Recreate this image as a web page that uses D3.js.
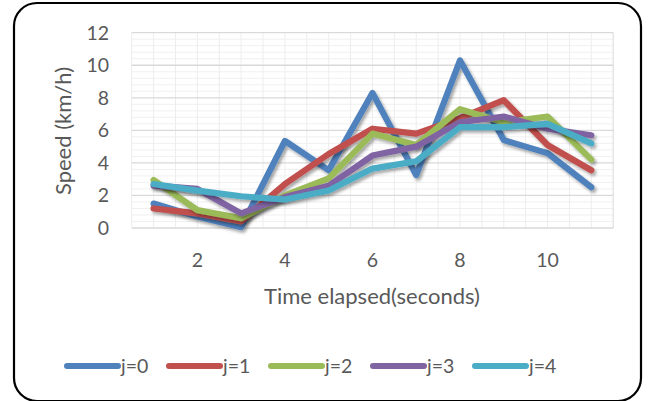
<!DOCTYPE html>
<html>
<head>
<meta charset="utf-8">
<script src="https://cdn.jsdelivr.net/npm/d3@7/dist/d3.min.js"></script>
<style>
  body { margin: 0; background: #fff; }
  text { font-family: Lato, "Open Sans", sans-serif; fill: #595959; }
</style>
</head>
<body>
<div id="chart"></div>
<script>
// Datos
const segundos = [1, 2, 3, 4, 5, 6, 7, 8, 9, 10, 11];
const etiquetasX = [2, 4, 6, 8, 10];
const ticksY = [0, 2, 4, 6, 8, 10, 12];
const series = ["j=0", "j=1", "j=2", "j=3", "j=4"];
const colores = ["#4F81BD", "#C0504D", "#9BBB59", "#8064A2", "#4BACC6"];

const j0 = [1.5, 0.7, 0.05, 5.35, 3.55, 8.3, 3.25, 10.3, 5.4, 4.6, 2.5];
const j1 = [1.2, 0.9, 0.4, 2.7, 4.55, 6.1, 5.8, 6.75, 7.85, 5.1, 3.55];
const j2 = [2.95, 1.1, 0.6, 2.0, 3.05, 5.8, 5.1, 7.3, 6.5, 6.85, 4.2];
const j3 = [2.6, 2.4, 0.9, 1.9, 2.6, 4.45, 5.0, 6.5, 6.85, 6.1, 5.7];
const j4 = [2.7, 2.3, 1.95, 1.75, 2.3, 3.65, 4.1, 6.2, 6.2, 6.4, 5.2];
const valores = [j0, j1, j2, j3, j4];

const width = 656;
const height = 401;

const svg = d3.select("#chart")
  .append("svg")
  .attr("width", width)
  .attr("height", height);

// Sombra de las líneas
const defs = svg.append("defs");
defs.append("filter")
  .attr("id", "sombra")
  .attr("x", "-10%").attr("y", "-10%")
  .attr("width", "130%").attr("height", "130%")
  .append("feDropShadow")
  .attr("dx", 2).attr("dy", 2.5)
  .attr("stdDeviation", 1.8)
  .attr("flood-color", "#000")
  .attr("flood-opacity", 0.35);

// Marco redondeado
svg.append("rect")
  .attr("x", 14).attr("y", 3)
  .attr("width", 627).attr("height", 398)
  .attr("rx", 23).attr("ry", 23)
  .attr("fill", "none")
  .attr("stroke", "#000")
  .attr("stroke-width", 2.2);

const x = d3.scaleBand()
  .domain(segundos)
  .range([131.7, 613.2])
  .padding(0);

const y = d3.scaleLinear()
  .domain([0, 12])
  .range([228, 32.7]);

const g = svg.append("g");

// Rejilla menor horizontal
const menores = d3.range(0, 12.01, 0.4).filter(v => Math.abs(v / 2 - Math.round(v / 2)) > 1e-6);
g.selectAll(".menorY")
  .data(menores)
  .join("line")
  .attr("x1", x.range()[0]).attr("x2", x.range()[1])
  .attr("y1", d => y(d)).attr("y2", d => y(d))
  .attr("stroke", "#F0F0F0")
  .attr("stroke-width", 1);

// Rejilla vertical (bordes y centros de categoría)
const verticales = [];
segundos.forEach(s => {
  verticales.push(x(s));
  verticales.push(x(s) + x.bandwidth() / 2);
});
verticales.push(x.range()[1]);
g.selectAll(".vert")
  .data(verticales)
  .join("line")
  .attr("x1", d => d).attr("x2", d => d)
  .attr("y1", y(12)).attr("y2", y(0))
  .attr("stroke", d => d === x.range()[1] ? "#D9D9D9" : "#EDEDED")
  .attr("stroke-width", 1);

// Rejilla mayor horizontal
g.selectAll(".mayorY")
  .data(ticksY)
  .join("line")
  .attr("x1", x.range()[0]).attr("x2", x.range()[1])
  .attr("y1", d => y(d)).attr("y2", d => y(d))
  .attr("stroke", "#D9D9D9")
  .attr("stroke-width", d => d === 0 ? 1.5 : 1.3);

// Etiquetas eje Y
svg.append("g")
  .selectAll("text")
  .data(ticksY)
  .join("text")
  .attr("x", 109)
  .attr("y", d => y(d))
  .attr("dy", "0.36em")
  .attr("text-anchor", "end")
  .attr("font-size", 19.5)
  .text(d => d);

// Etiquetas eje X
svg.append("g")
  .selectAll("text")
  .data(etiquetasX)
  .join("text")
  .attr("x", d => x(d) + x.bandwidth() / 2)
  .attr("y", 259.5)
  .attr("dy", "0.36em")
  .attr("text-anchor", "middle")
  .attr("font-size", 19.5)
  .text(d => d);

// Títulos de ejes
svg.append("text")
  .attr("x", 372)
  .attr("y", 296)
  .attr("dy", "0.36em")
  .attr("text-anchor", "middle")
  .attr("font-size", 22)
  .text("Time elapsed(seconds)");

svg.append("text")
  .attr("transform", "translate(63,131) rotate(-90)")
  .attr("dy", "0.36em")
  .attr("text-anchor", "middle")
  .attr("font-size", 22)
  .text("Speed (km/h)");

// Líneas
const linea = d3.line()
  .x((d, i) => x(segundos[i]) + x.bandwidth() / 2)
  .y(d => y(d));

svg.append("g")
  .selectAll("path")
  .data(valores)
  .join("path")
  .attr("d", d => linea(d))
  .attr("fill", "none")
  .attr("stroke", (d, i) => colores[i])
  .attr("stroke-width", 6.2)
  .attr("stroke-linejoin", "round")
  .attr("stroke-linecap", "round")
  .attr("filter", "url(#sombra)");

// Leyenda
const leyenda = svg.append("g")
  .selectAll("g")
  .data(series)
  .join("g")
  .attr("transform", (d, i) => `translate(${67 + i * 102},366)`);

leyenda.append("line")
  .attr("x1", 0).attr("x2", 51)
  .attr("y1", 0).attr("y2", 0)
  .attr("stroke", (d, i) => colores[i])
  .attr("stroke-width", 6)
  .attr("stroke-linecap", "round");

leyenda.append("text")
  .attr("x", 54)
  .attr("y", 0)
  .attr("dy", "0.36em")
  .attr("font-size", 19.5)
  .text(d => d);
</script>
</body>
</html>
